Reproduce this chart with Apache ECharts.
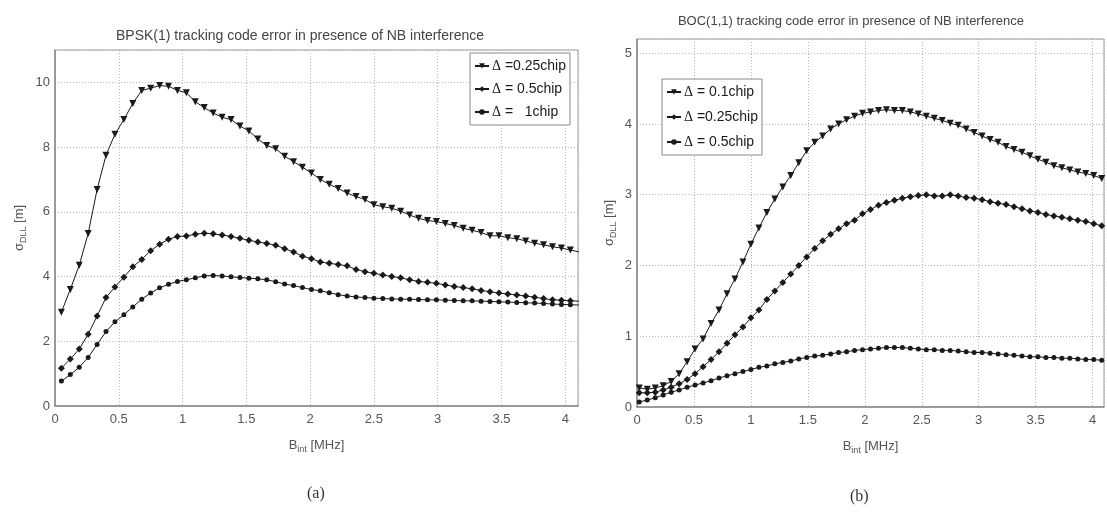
<!DOCTYPE html>
<html>
<head>
<meta charset="utf-8">
<script src="https://cdn.jsdelivr.net/npm/echarts@6/dist/echarts.min.js"></script>
<style>
  html, body { margin: 0; padding: 0; background: #fff; }
  #chart { width: 1107px; height: 518px; }
</style>
</head>
<body>
<div id="chart"></div>
<script>
// Interference bandwidth samples [MHz]
const bandBPSK = [0.05,0.12,0.19,0.26,0.33,0.40,0.47,0.54,0.61,0.68,0.75,0.82,0.89,0.96,1.03,1.10,1.17,1.24,1.31,1.38,1.45,1.52,1.59,1.66,1.73,1.80,1.87,1.94,2.01,2.08,2.15,2.22,2.29,2.36,2.43,2.50,2.57,2.64,2.71,2.78,2.85,2.92,2.99,3.06,3.13,3.20,3.27,3.34,3.41,3.48,3.55,3.62,3.69,3.76,3.83,3.90,3.97,4.04,4.11];
const bandBOC = [0.02,0.09,0.16,0.23,0.30,0.37,0.44,0.51,0.58,0.65,0.72,0.79,0.86,0.93,1.00,1.07,1.14,1.21,1.28,1.35,1.42,1.49,1.56,1.63,1.70,1.77,1.84,1.91,1.98,2.05,2.12,2.19,2.26,2.33,2.40,2.47,2.54,2.61,2.68,2.75,2.82,2.89,2.96,3.03,3.10,3.17,3.24,3.31,3.38,3.45,3.52,3.59,3.66,3.73,3.80,3.87,3.94,4.01,4.08];

// BPSK(1) code tracking error sigma_DLL [m]
const bpskD025 = [2.9,3.6,4.35,5.33,6.69,7.75,8.4,8.85,9.35,9.75,9.82,9.9,9.88,9.75,9.68,9.4,9.22,9.05,8.92,8.85,8.65,8.5,8.25,8.05,7.95,7.72,7.55,7.38,7.2,7.0,6.85,6.72,6.58,6.47,6.38,6.22,6.16,6.11,6.02,5.9,5.8,5.73,5.7,5.64,5.58,5.49,5.43,5.36,5.26,5.26,5.2,5.17,5.1,5.03,4.98,4.92,4.88,4.82,4.76];
const bpskD05 = [1.17,1.45,1.76,2.22,2.78,3.35,3.68,3.98,4.3,4.53,4.8,5.0,5.15,5.24,5.25,5.31,5.34,5.32,5.28,5.24,5.18,5.12,5.07,5.02,4.97,4.86,4.76,4.63,4.55,4.45,4.41,4.37,4.33,4.22,4.15,4.1,4.05,4.0,3.96,3.9,3.85,3.82,3.79,3.74,3.69,3.66,3.62,3.57,3.53,3.49,3.46,3.43,3.4,3.36,3.32,3.28,3.27,3.25,3.24];
const bpskD1 = [0.77,0.97,1.2,1.5,1.9,2.3,2.6,2.82,3.06,3.3,3.49,3.65,3.76,3.85,3.9,3.96,4.02,4.03,4.02,3.99,3.97,3.95,3.93,3.9,3.84,3.77,3.72,3.66,3.6,3.56,3.5,3.44,3.4,3.37,3.35,3.33,3.32,3.31,3.3,3.3,3.29,3.28,3.28,3.27,3.26,3.25,3.25,3.24,3.23,3.22,3.21,3.2,3.19,3.18,3.17,3.15,3.14,3.13,3.12];

// BOC(1,1) code tracking error sigma_DLL [m]
const bocD01 = [0.27,0.25,0.27,0.3,0.36,0.47,0.64,0.82,0.96,1.18,1.37,1.6,1.81,2.05,2.3,2.53,2.75,2.94,3.11,3.27,3.45,3.62,3.74,3.83,3.93,4.0,4.06,4.11,4.15,4.17,4.19,4.2,4.19,4.19,4.17,4.14,4.11,4.08,4.05,4.01,3.98,3.93,3.88,3.83,3.78,3.74,3.68,3.64,3.6,3.55,3.5,3.46,3.41,3.38,3.35,3.32,3.3,3.27,3.23];
const bocD025 = [0.2,0.2,0.21,0.24,0.28,0.33,0.39,0.47,0.57,0.67,0.78,0.9,1.02,1.13,1.26,1.37,1.52,1.64,1.76,1.88,2.0,2.12,2.24,2.35,2.44,2.52,2.59,2.64,2.73,2.79,2.85,2.89,2.92,2.95,2.97,2.99,3.0,2.98,2.98,3.0,2.98,2.96,2.95,2.93,2.9,2.88,2.86,2.83,2.8,2.77,2.75,2.72,2.7,2.68,2.66,2.64,2.62,2.59,2.56];
const bocD05 = [0.07,0.1,0.13,0.17,0.21,0.24,0.28,0.31,0.34,0.37,0.41,0.44,0.47,0.5,0.53,0.56,0.58,0.61,0.63,0.65,0.68,0.7,0.72,0.73,0.75,0.77,0.78,0.8,0.81,0.82,0.83,0.84,0.84,0.84,0.83,0.82,0.81,0.81,0.8,0.8,0.79,0.78,0.77,0.77,0.76,0.75,0.74,0.73,0.72,0.71,0.71,0.7,0.7,0.69,0.69,0.68,0.67,0.67,0.66];

// Legend entries (text after the Δ sign)
const bpskLabels = [' =0.25chip', ' = 0.5chip', ' =   1chip'];
const bocLabels = [' = 0.1chip', ' =0.25chip', ' = 0.5chip'];

const titles = ['BPSK(1) tracking code error in presence of NB interference',
                'BOC(1,1) tracking code error in presence of NB interference'];
const captions = ['(a)', '(b)'];

const FONT = 'Liberation Sans';
const SERIF = 'Liberation Serif';
const INK = '#1a1a1a';
const TXT = '#555';

const pairs = (xs, ys) => xs.map((x, i) => [x, ys[i]]);

const seriesDefs = [
  { key: 'a0', grid: 0, xs: bandBPSK, ys: bpskD025, symbol: 'triangle', rot: 180, size: 7 },
  { key: 'a1', grid: 0, xs: bandBPSK, ys: bpskD05,  symbol: 'diamond',  rot: 0,   size: 7 },
  { key: 'a2', grid: 0, xs: bandBPSK, ys: bpskD1,   symbol: 'circle',   rot: 0,   size: 5 },
  { key: 'b0', grid: 1, xs: bandBOC,  ys: bocD01,   symbol: 'triangle', rot: 180, size: 7 },
  { key: 'b1', grid: 1, xs: bandBOC,  ys: bocD025,  symbol: 'diamond',  rot: 0,   size: 7 },
  { key: 'b2', grid: 1, xs: bandBOC,  ys: bocD05,   symbol: 'circle',   rot: 0,   size: 5 }
];
const legendText = {
  a0: bpskLabels[0], a1: bpskLabels[1], a2: bpskLabels[2],
  b0: bocLabels[0],  b1: bocLabels[1],  b2: bocLabels[2]
};

const axisNameRich = {
  g: { fontFamily: FONT, fontSize: 13, color: TXT },
  s: { fontFamily: FONT, fontSize: 9, color: TXT, padding: [9, 0, 0, 0] }
};

// label only the regular ticks, not the axis extent
const onStep = step => v => {
  const k = v / step;
  return Math.abs(k - Math.round(k)) < 1e-6 ? String(v) : '';
};

function xAxisFor(gi) {
  return {
    type: 'value', gridIndex: gi, min: 0, max: 4.1, interval: 0.5,
    name: '{g|B}{s|int}{g| [MHz]}', nameLocation: 'middle', nameGap: 30,
    nameTextStyle: { rich: axisNameRich },
    axisLine: { lineStyle: { color: '#8a8a8a', width: 1.5 } },
    axisTick: { show: false },
    axisLabel: { fontFamily: FONT, fontSize: 13, color: TXT, margin: 7, formatter: onStep(0.5) },
    splitLine: { show: true, lineStyle: { color: '#b5b5b5', type: [1, 2], width: 1 } }
  };
}
function yAxisFor(gi, max, step, gap) {
  return {
    type: 'value', gridIndex: gi, min: 0, max: max, interval: step,
    name: '{g|σ}{s|DLL}{g| [m]}', nameLocation: 'middle', nameGap: gap,
    nameTextStyle: { rich: axisNameRich },
    axisLine: { show: true, lineStyle: { color: '#8a8a8a', width: 1.5 } },
    axisTick: { show: false },
    axisLabel: { fontFamily: FONT, fontSize: 13, color: TXT, margin: 5, formatter: onStep(step) },
    splitLine: { show: true, lineStyle: { color: '#b5b5b5', type: [1, 2], width: 1 } }
  };
}

function legendFor(keys, left, top, gap) {
  return {
    data: keys, orient: 'vertical', left: left, top: top,
    itemWidth: 14, itemHeight: 7, itemGap: gap,
    padding: [5, 4, 5, 4],
    backgroundColor: '#fff', borderColor: '#8a8a8a', borderWidth: 1,
    selectedMode: false,
    formatter: name => '{d|Δ}{t|' + legendText[name] + '}',
    textStyle: {
      color: INK, fontSize: 14, lineHeight: 16, padding: [0, 0, 0, -2],
      rich: {
        d: { fontFamily: SERIF, fontSize: 14, color: INK },
        t: { fontFamily: FONT, fontSize: 14, color: INK }
      }
    }
  };
}

const option = {
  backgroundColor: '#fff',
  animation: false,
  title: [
    { text: titles[0], left: 295, top: 24, textAlign: 'center',
      textStyle: { fontFamily: FONT, fontSize: 14, fontWeight: 'normal', color: '#444' } },
    { text: titles[1], left: 846, top: 10, textAlign: 'center',
      textStyle: { fontFamily: FONT, fontSize: 13, fontWeight: 'normal', color: '#444' } }
  ],
  grid: [
    { left: 55, top: 50, right: 529, bottom: 112, show: true, borderColor: '#9a9a9a', borderWidth: 1 },
    { left: 637, top: 39, right: 1, bottom: 111, show: true, borderColor: '#9a9a9a', borderWidth: 1 }
  ],
  xAxis: [xAxisFor(0), xAxisFor(1)],
  yAxis: [yAxisFor(0, 11, 2, 27), yAxisFor(1, 5.2, 1, 19)],
  legend: [
    legendFor(['a0', 'a1', 'a2'], 470, 53, 7),
    legendFor(['b0', 'b1', 'b2'], 662, 79, 9)
  ],
  series: seriesDefs.map(d => ({
    name: d.key, type: 'line',
    xAxisIndex: d.grid, yAxisIndex: d.grid,
    data: pairs(d.xs, d.ys),
    showSymbol: true, symbol: d.symbol, symbolRotate: d.rot, symbolSize: d.size,
    lineStyle: { color: INK, width: 1 },
    itemStyle: { color: INK },
    clip: true
  })),
  graphic: [
    { type: 'text', left: 307, top: 486, style: { text: captions[0], font: '16px "Liberation Serif"', fill: '#333' } },
    { type: 'text', left: 850, top: 489, style: { text: captions[1], font: '16px "Liberation Serif"', fill: '#333' } }
  ]
};

const chart = echarts.init(document.getElementById('chart'), null, { renderer: 'canvas' });
chart.setOption(option);
</script>
</body>
</html>
